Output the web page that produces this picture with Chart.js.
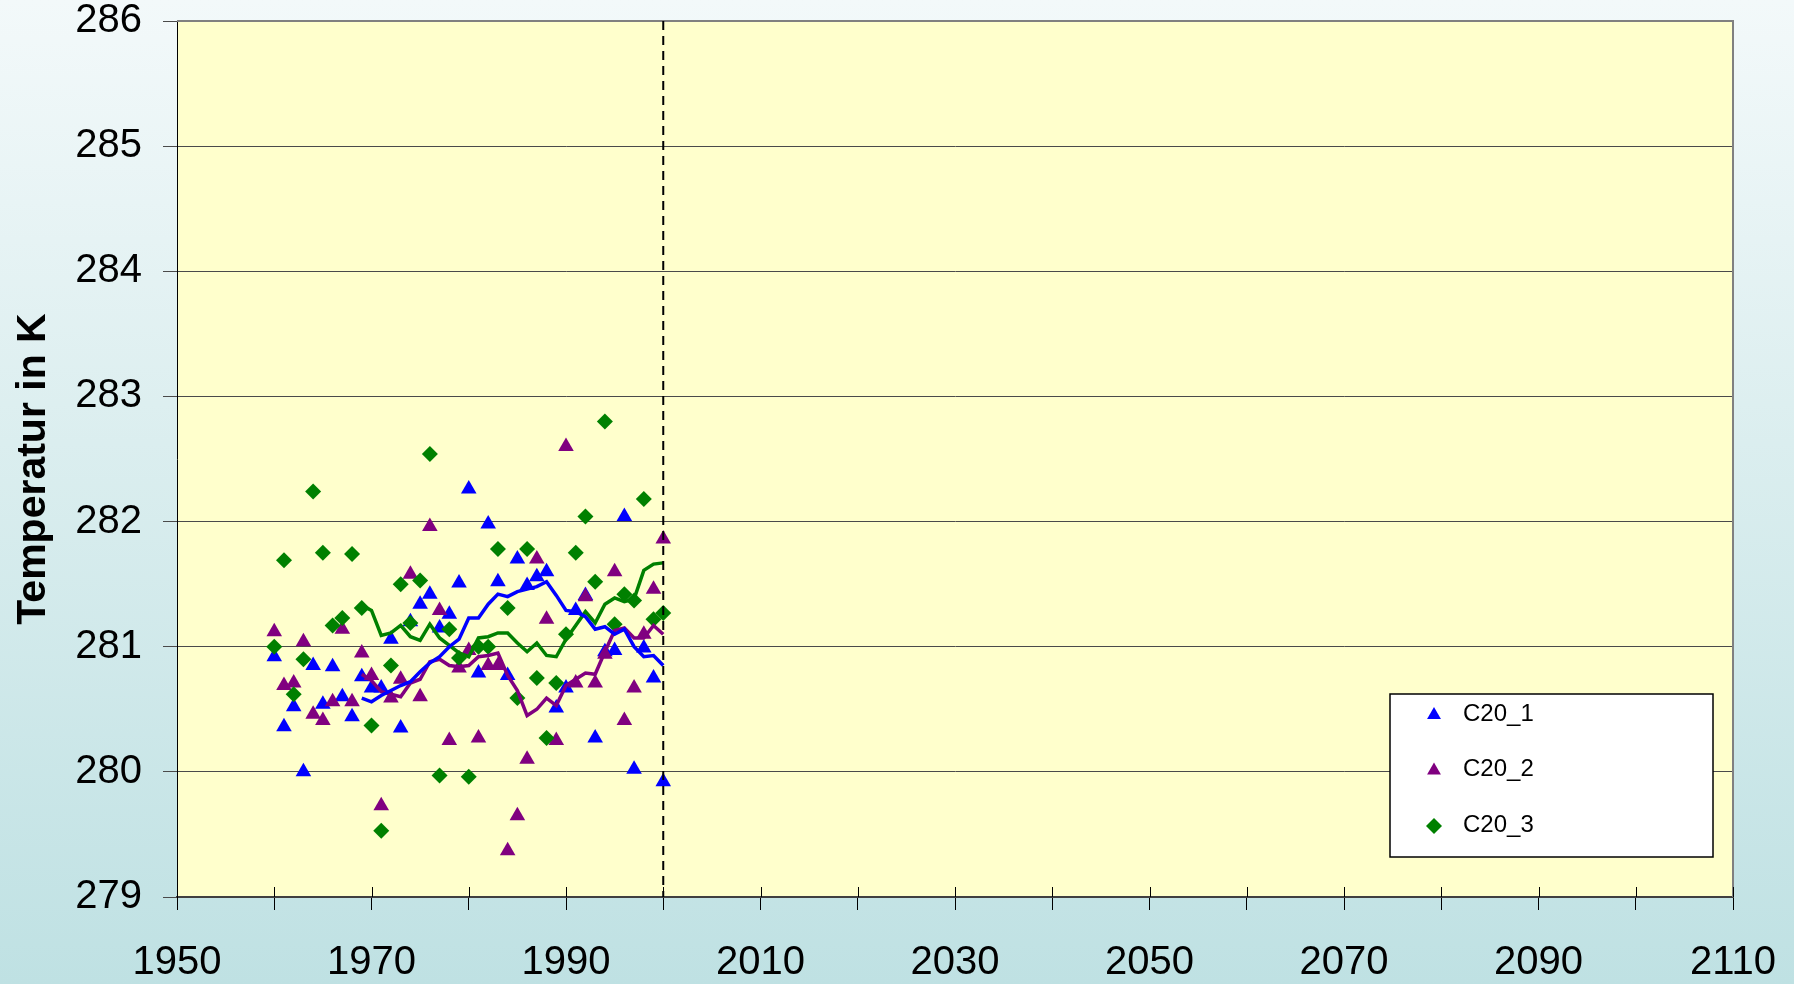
<!DOCTYPE html>
<html lang="de">
<head>
    <meta charset="UTF-8">
    <title>Temperatur C20</title>
    <script src="https://cdn.jsdelivr.net/npm/chart.js"></script>
    <style>
        html, body {
            margin: 0;
            padding: 0;
        }
        body {
            width: 1794px;
            height: 984px;
            overflow: hidden;
            background: linear-gradient(to bottom, #f3f9fa 0%, #dbeeef 45%, #bfe1e3 100%);
        }
        #chart {
            display: block;
        }
    </style>
</head>
<body>

<canvas id="chart" width="1794" height="984"></canvas>

<script>
    // Jahre der Einzelwerte
    const years = [1960, 1961, 1962, 1963, 1964, 1965, 1966, 1967, 1968, 1969,
        1970, 1971, 1972, 1973, 1974, 1975, 1976, 1977, 1978, 1979,
        1980, 1981, 1982, 1983, 1984, 1985, 1986, 1987, 1988, 1989,
        1990, 1991, 1992, 1993, 1994, 1995, 1996, 1997, 1998, 1999, 2000];

    // Jahresmittel der drei Läufe (K)
    const c20_1 = [280.92, 280.36, 280.52, 280.00, 280.85, 280.54, 280.84, 280.60, 280.44, 280.76,
        280.67, 280.67, 281.06, 280.35, 281.20, 281.34, 281.42, 281.15, 281.26, 281.51,
        282.26, 280.79, 281.98, 281.52, 280.77, 281.70, 281.49, 281.56, 281.60, 280.51,
        280.67, 281.29, 281.41, 280.27, 280.96, 280.97, 282.04, 280.02, 280.99, 280.75, 279.92];
    const c20_2 = [281.12, 280.69, 280.71, 281.04, 280.46, 280.41, 280.56, 281.14, 280.56, 280.95,
        280.77, 279.73, 280.59, 280.74, 281.58, 280.60, 281.96, 281.29, 280.25, 280.83,
        280.97, 280.27, 280.85, 280.85, 279.37, 279.65, 280.10, 281.70, 281.22, 280.25,
        282.60, 280.71, 281.40, 280.71, 280.94, 281.60, 280.41, 280.67, 281.10, 281.46, 281.86];
    const c20_3 = [281.00, 281.69, 280.62, 280.90, 282.24, 281.75, 281.17, 281.23, 281.74, 281.31,
        280.37, 279.53, 280.85, 281.50, 281.19, 281.53, 282.54, 279.97, 281.14, 280.91,
        279.96, 281.00, 281.00, 281.78, 281.31, 280.59, 281.78, 280.75, 280.27, 280.71,
        281.10, 281.75, 282.04, 281.52, 282.80, 281.18, 281.42, 281.37, 282.18, 281.22, 281.27];

    // gleitende Mittel
    const meanYears = [1969, 1970, 1971, 1972, 1973, 1974, 1975, 1976, 1977, 1978,
        1979, 1980, 1981, 1982, 1983, 1984, 1985, 1986, 1987, 1988,
        1989, 1990, 1991, 1992, 1993, 1994, 1995, 1996, 1997, 1998, 1999, 2000];
    const mean_1 = [280.59, 280.56, 280.61, 280.65, 280.69, 280.72, 280.80, 280.87, 280.92, 281.00,
        281.06, 281.23, 281.23, 281.34, 281.42, 281.40, 281.44, 281.46, 281.48, 281.52,
        281.41, 281.29, 281.28, 281.24, 281.14, 281.16, 281.10, 281.14, 281.00, 280.92, 280.93, 280.85];
    const mean_2 = [280.78, 280.73, 280.64, 280.62, 280.60, 280.71, 280.74, 280.88, 280.90, 280.85,
        280.84, 280.85, 280.92, 280.93, 280.95, 280.77, 280.65, 280.45, 280.50, 280.59,
        280.53, 280.69, 280.74, 280.79, 280.78, 280.96, 281.13, 281.15, 281.07, 281.07, 281.17, 281.10];
    const mean_3 = [281.33, 281.29, 281.09, 281.11, 281.17, 281.08, 281.05, 281.18, 281.07, 281.01,
        280.95, 280.92, 281.07, 281.08, 281.11, 281.11, 281.03, 280.96, 281.03, 280.93,
        280.92, 281.06, 281.17, 281.28, 281.19, 281.34, 281.39, 281.36, 281.38, 281.61, 281.66, 281.67];

    const xTickLabels = [1950, 1970, 1990, 2010, 2030, 2050, 2070, 2090, 2110];
    const scenarioStart = 2000;
    const yTitle = 'Temperatur in K';

    const FONT = '"Liberation Sans", Arial, sans-serif';

    function toPoints(xs, ys) {
        return xs.map((x, i) => ({ x: x, y: ys[i] }));
    }

    // Hintergrund der Zeichenfläche, Rahmen, Strichlinie, Legende, Achsentitel
    const decorations = {
        id: 'decorations',
        beforeDatasetsDraw(chart) {
            const { ctx, chartArea: a } = chart;
            ctx.save();
            // Plotfläche
            ctx.globalCompositeOperation = 'destination-over';
            ctx.fillStyle = '#ffffcc';
            ctx.fillRect(a.left, a.top, a.right - a.left, a.bottom - a.top);
            ctx.restore();

            ctx.save();
            ctx.strokeStyle = '#808080';
            ctx.lineWidth = 2;
            ctx.beginPath();
            ctx.moveTo(a.left, a.top);
            ctx.lineTo(a.right, a.top);
            ctx.lineTo(a.right, a.bottom);
            ctx.stroke();

            // Teilstriche der x-Achse nach innen
            const xs = chart.scales.x;
            ctx.strokeStyle = '#000';
            ctx.lineWidth = 1;
            xs.ticks.forEach(t => {
                const px = Math.round(xs.getPixelForValue(t.value)) + 0.5;
                ctx.beginPath();
                ctx.moveTo(px, a.bottom - 10);
                ctx.lineTo(px, a.bottom);
                ctx.stroke();
            });

            // y-Achsentitel
            ctx.translate(34, (a.top + a.bottom) / 2 + 10);
            ctx.rotate(-Math.PI / 2);
            ctx.fillStyle = '#000';
            ctx.font = 'bold 41px ' + FONT;
            ctx.textAlign = 'center';
            ctx.textBaseline = 'middle';
            ctx.fillText(yTitle, 0, 0);
            ctx.restore();
        },
        afterDatasetsDraw(chart) {
            const { ctx, chartArea: a } = chart;
            const xs = chart.scales.x;
            ctx.save();
            const px = xs.getPixelForValue(scenarioStart);
            ctx.strokeStyle = '#000';
            ctx.lineWidth = 2;
            ctx.setLineDash([9, 6]);
            ctx.beginPath();
            ctx.moveTo(px, a.top);
            ctx.lineTo(px, a.bottom);
            ctx.stroke();
            ctx.restore();

            // Legende
            const items = chart.data.datasets.filter(d => d.inLegend);
            ctx.save();
            ctx.fillStyle = '#fff';
            ctx.fillRect(1390, 694, 323, 163);
            ctx.strokeStyle = '#000';
            ctx.lineWidth = 1.5;
            ctx.strokeRect(1390, 694, 323, 163);
            ctx.font = '24px ' + FONT;
            ctx.textBaseline = 'middle';
            items.forEach((d, i) => {
                const y = 714 + i * 55.5;
                drawMarker(ctx, d.pointStyle, 1434, y + 1, 8, d.pointBackgroundColor);
                ctx.fillStyle = '#000';
                ctx.fillText(d.label, 1463, y);
            });
            ctx.restore();
        }
    };

    function drawMarker(ctx, style, x, y, r, color) {
        ctx.fillStyle = color;
        ctx.beginPath();
        if (style === 'triangle') {
            ctx.moveTo(x, y - r);
            ctx.lineTo(x + 0.866 * r, y + 0.5 * r);
            ctx.lineTo(x - 0.866 * r, y + 0.5 * r);
        } else {
            ctx.moveTo(x, y - r);
            ctx.lineTo(x + r, y);
            ctx.lineTo(x, y + r);
            ctx.lineTo(x - r, y);
        }
        ctx.closePath();
        ctx.fill();
    }

    function pointSet(label, xs, ys, color, style, radius, order) {
        return {
            label: label,
            data: toPoints(xs, ys),
            showLine: false,
            pointStyle: style,
            pointRadius: radius,
            pointBackgroundColor: color,
            pointBorderColor: color,
            pointBorderWidth: 0,
            order: order,
            inLegend: true
        };
    }

    function lineSet(label, xs, ys, color) {
        return {
            label: label,
            data: toPoints(xs, ys),
            showLine: true,
            borderColor: color,
            borderWidth: 3.5,
            pointRadius: 0,
            fill: false,
            tension: 0,
            order: 0
        };
    }

    new Chart(document.getElementById('chart'), {
        type: 'scatter',
        data: {
            datasets: [
                pointSet('C20_1', years, c20_1, '#0000ff', 'triangle', 9, 3),
                pointSet('C20_2', years, c20_2, '#800080', 'triangle', 9, 2),
                pointSet('C20_3', years, c20_3, '#008000', 'rectRot', 8, 1),
                lineSet('C20_1 Mittel', meanYears, mean_1, '#0000ff'),
                lineSet('C20_2 Mittel', meanYears, mean_2, '#800080'),
                lineSet('C20_3 Mittel', meanYears, mean_3, '#008000')
            ]
        },
        options: {
            responsive: false,
            animation: false,
            layout: { padding: { top: 21, right: 61, left: 0, bottom: 0 } },
            plugins: {
                legend: { display: false },
                tooltip: { enabled: false }
            },
            scales: {
                x: {
                    type: 'linear',
                    min: 1950,
                    max: 2110,
                    ticks: {
                        stepSize: 10,
                        autoSkip: false,
                        maxRotation: 0,
                        padding: 33,
                        color: '#000',
                        font: { family: FONT, size: 40, lineHeight: 1 },
                        callback: v => xTickLabels.includes(v) ? String(v) : ''
                    },
                    grid: { drawOnChartArea: false, drawTicks: true, tickLength: 13, color: '#000', lineWidth: 1 },
                    border: { color: '#404040', width: 2 },
                    afterFit: s => {
                        s.height = 87;
                        s.paddingLeft = 0;
                        s.paddingRight = 0;
                    }
                },
                y: {
                    min: 279,
                    max: 286,
                    ticks: {
                        stepSize: 1,
                        padding: 21,
                        color: '#000',
                        font: { family: FONT, size: 40, lineHeight: 1 }
                    },
                    grid: { color: '#4a4a4a', lineWidth: 1, tickLength: 14 },
                    border: { color: '#000', width: 1 },
                    afterFit: s => {
                        s.width = 177;
                        s.paddingTop = 0;
                        s.paddingBottom = 0;
                    }
                }
            }
        },
        plugins: [decorations]
    });
</script>

</body>
</html>
